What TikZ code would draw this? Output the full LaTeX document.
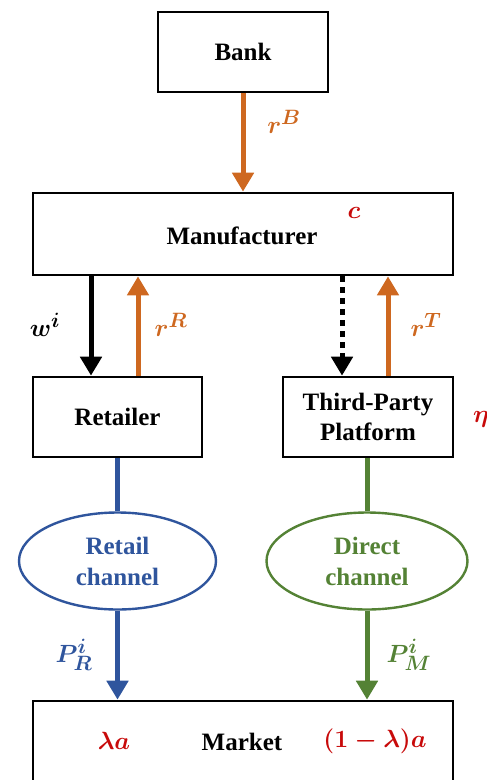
\documentclass[tikz,border=0pt]{standalone}
\usepackage{fontspec}
\setmainfont{Liberation Serif}
\usetikzlibrary{arrows.meta,shapes.geometric}
\definecolor{flowor}{RGB}{206,104,32}
\definecolor{flowbl}{RGB}{47,85,157}
\definecolor{flowgr}{RGB}{84,130,53}
\definecolor{parred}{RGB}{200,10,10}
\tikzset{
  box/.style={draw=black,line width=2.6pt,fill=white,inner sep=0pt,
    font=\fontsize{25}{30}\selectfont\bfseries,align=center},
  chan/.style={ellipse,draw=#1,line width=2.4pt,inner sep=0pt,text=#1,
    font=\fontsize{25}{31}\selectfont\bfseries,align=center},
  flow/.style={line width=5pt,draw=#1,-{Triangle[width=21pt,length=19pt]}},
  link/.style={line width=5pt,draw=#1},
  dotflow/.style={line width=5pt,draw=black,dash pattern=on 6pt off 5pt,
    -{Triangle[width=21pt,length=19pt]}},
  lbl/.style={text=#1,font=\fontsize{30}{34}\selectfont\boldmath,inner sep=0pt},
  plain/.style={font=\fontsize{25}{30}\selectfont\bfseries,inner sep=0pt}
}
\begin{document}
\begin{tikzpicture}[x=1pt,y=-1pt]
\useasboundingbox (0,0) rectangle (487,780);
\clip (0,0) rectangle (487,780);
% actors
\node[box,minimum width=170pt,minimum height=80pt] (bank) at (243,52) {Bank};
\node[box,minimum width=420pt,minimum height=82pt] (manu) at (243,234) {};
\node[plain] (manutxt) at (242,236) {Manufacturer};
\node[box,minimum width=169pt,minimum height=80pt] (ret) at (117.5,417) {Retailer};
\node[box,minimum width=170pt,minimum height=80pt] (tpp) at (368,417) {Third-Party\\Platform};
\node[chan=flowbl,minimum width=197pt,minimum height=97pt] (rch) at (117.5,561) {Retail\\channel};
\node[chan=flowgr,minimum width=201pt,minimum height=97pt] (dch) at (367,561) {Direct\\channel};
\node[box,minimum width=420pt,minimum height=92pt] (mkt) at (243,747) {};
\node[plain] (mkttxt) at (242,742) {Market};
% flows between the actors
\draw[flow=flowor] (bank.south) -- (manu.north);
\draw[flow=black] ([xshift=-26.5pt]ret.north |- manu.south) -- ([xshift=-26.5pt]ret.north);
\draw[flow=flowor] ([xshift=20.5pt]ret.north) -- ([xshift=20.5pt]ret.north |- manu.south);
\draw[dotflow] ([xshift=-26pt]tpp.north |- manu.south) -- ([xshift=-26pt]tpp.north);
\draw[flow=flowor] ([xshift=20pt]tpp.north) -- ([xshift=20pt]tpp.north |- manu.south);
\draw[link=flowbl] (ret.south) -- (rch.north);
\draw[flow=flowbl] (rch.south) -- (rch.south |- mkt.north);
\draw[link=flowgr] (tpp.south -| dch.north) -- (dch.north);
\draw[flow=flowgr] (dch.south) -- (dch.south |- mkt.north);
% parameters
\node[lbl=flowor] (rB) at (284,122) {$r^B$};
\node[lbl=parred] (cst) at (354,213) {$c$};
\node[lbl=black] (wi) at (45,325) {$w^i$};
\node[lbl=flowor] (rR) at (171,325) {$r^R$};
\node[lbl=flowor] (rT) at (426,325) {$r^T$};
\node[lbl=parred] (eta) at (481,419) {$\eta$};
\node[lbl=flowbl] (PR) at (74,655) {$P_R^i$};
\node[lbl=flowgr] (PM) at (409,655) {$P_M^i$};
\node[lbl=parred] (lam) at (114,741) {$\lambda a$};
\node[lbl=parred,font=\fontsize{28}{32}\selectfont\boldmath] (oml) at (375,741) {$(1-\lambda)a$};
\end{tikzpicture}
\end{document}
